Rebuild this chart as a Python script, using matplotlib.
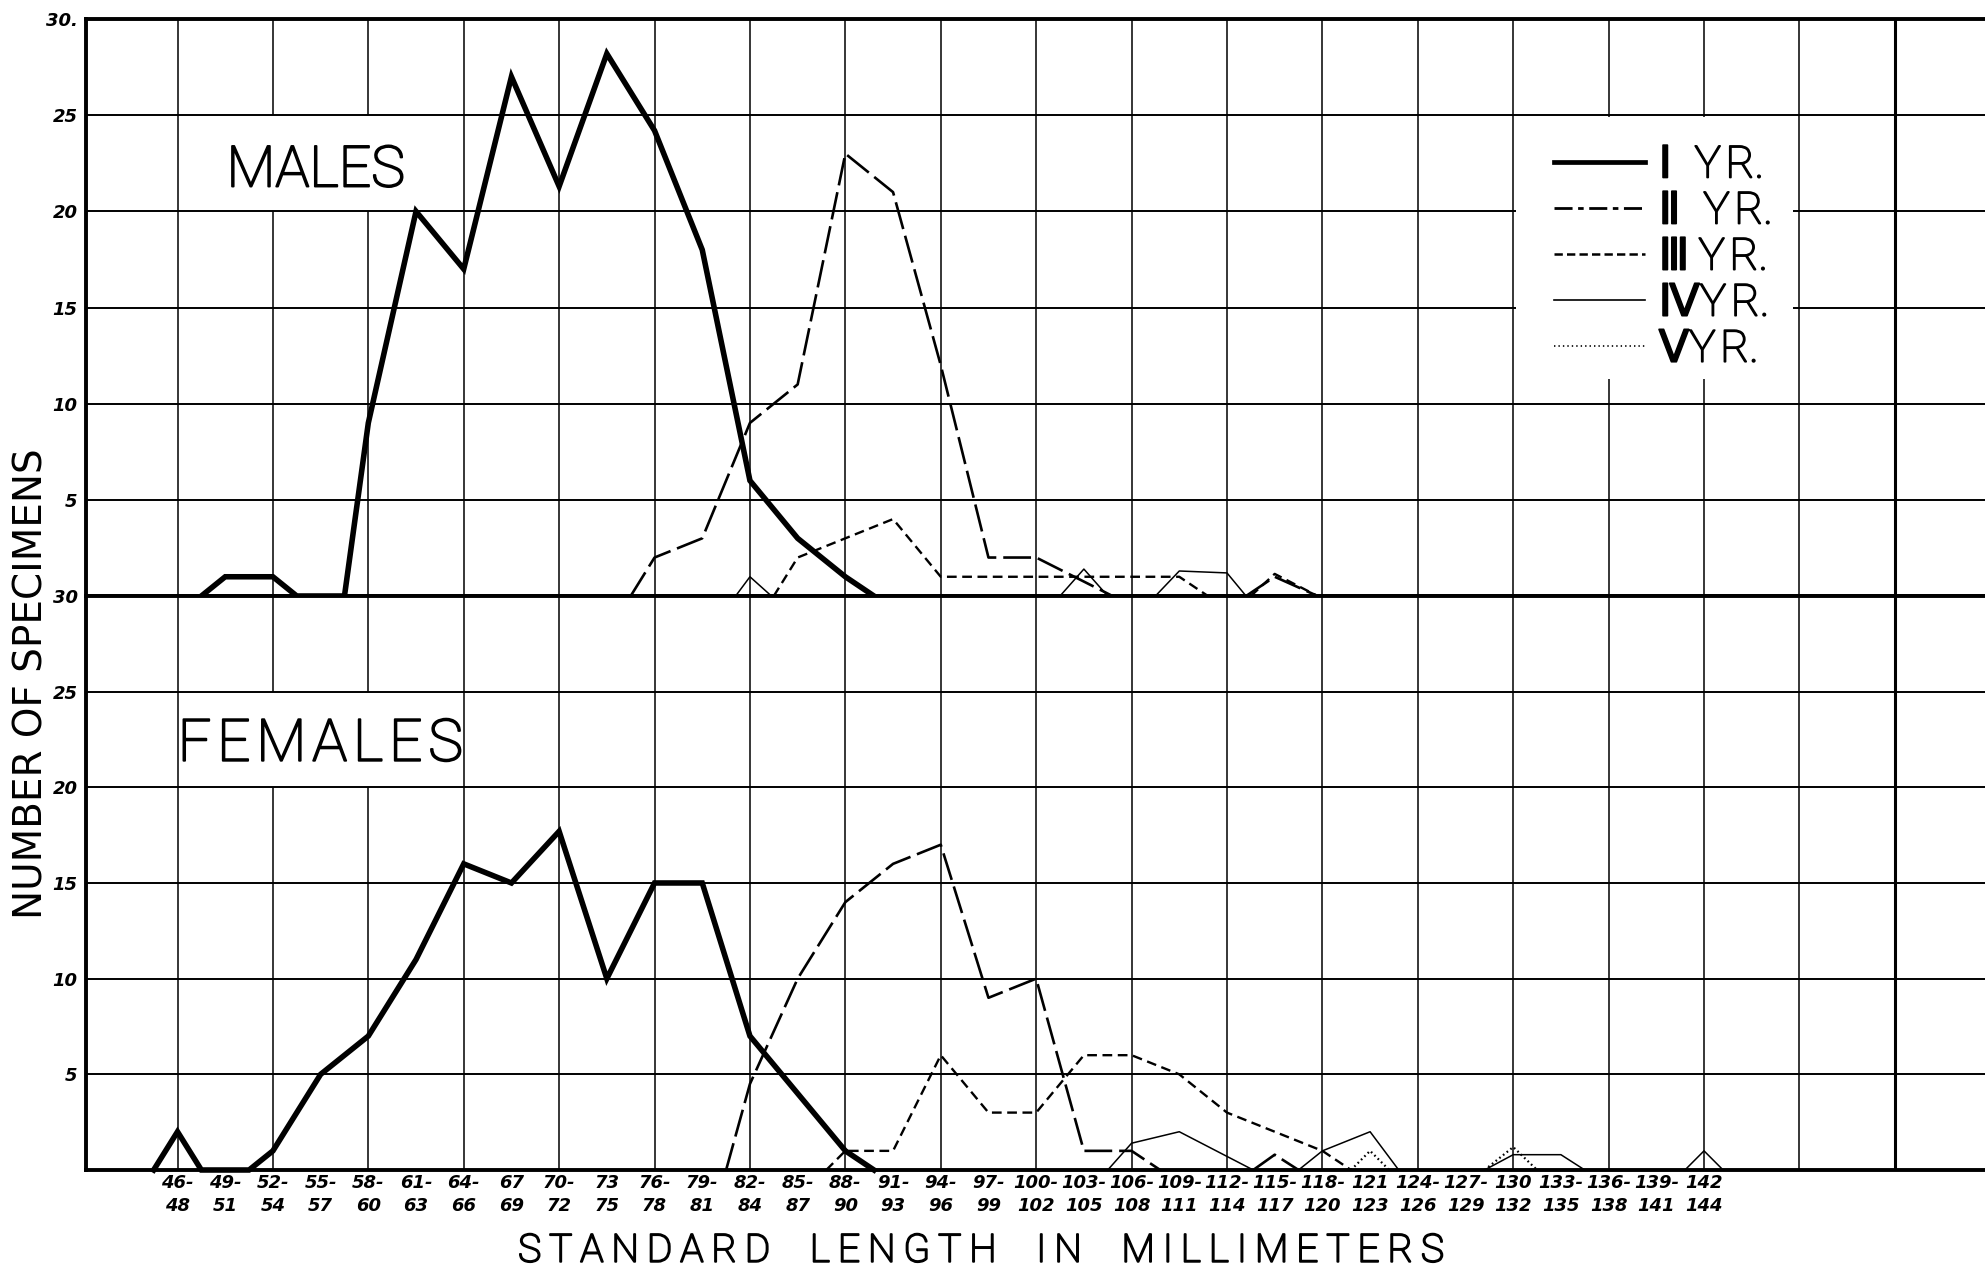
import numpy as np
import matplotlib.pyplot as plt
import matplotlib.patheffects as pe
from matplotlib.lines import Line2D
from matplotlib.patches import Rectangle
from matplotlib.font_manager import FontProperties
from matplotlib.mathtext import MathTextParser

plt.rcParams['lines.scale_dashes'] = False
plt.rcParams['font.family'] = ['DejaVu Sans']

nan = np.nan

# classes de longueur : indice 0 -> 46-48 mm, 1 -> 49-51 mm ... 32 -> 142-144 mm
tick_top = ["46-", "49-", "52-", "55-", "58-", "61-", "64-", "67", "70-", "73",
            "76-", "79-", "82-", "85-", "88-", "91-", "94-", "97-", "100-", "103-",
            "106-", "109-", "112-", "115-", "118-", "121", "124-", "127-", "130",
            "133-", "136-", "139-", "142"]
tick_bot = ["48", "51", "54", "57", "60", "63", "66", "69", "72", "75",
            "78", "81", "84", "87", "90", "93", "96", "99", "102", "105",
            "108", "111", "114", "117", "120", "123", "126", "129", "132",
            "135", "138", "141", "144"]

# MALES
m1_x = [0.5, 1, 2, 2.5, 3.5, 4, 5, 6, 7, 8, 9, 10, 11, 12, 13, 14, 14.6]
m1_y = [0, 1, 1, 0, 0, 9, 20, 17, 27, 21.3, 28.2, 24.2, 18, 6, 3, 1, 0]
m2_x = [9.5, 10, 11, 12, 13, 14, 15, 16, 17, 18, 19.6, nan, 22.4, 23, 23.9]
m2_y = [0, 2, 3, 9, 11, 23, 21, 12, 2, 2, 0, nan, 0, 1, 0]
m3_x = [12.5, 13, 14, 15, 16, 17, 18, 19, 20, 21, 21.6, nan, 22.5, 23, 23.9]
m3_y = [0, 2, 3, 4, 1, 1, 1, 1, 1, 1, 0, nan, 0, 1.15, 0]
m4_x = [11.7, 12, 12.45, nan, 18.5, 19, 19.5, nan, 20.5, 21, 22, 22.4]
m4_y = [0, 1, 0, nan, 0, 1.4, 0, nan, 0, 1.3, 1.2, 0]

# FEMALES
f1_x = [-0.5, 0, 0.5, 1.5, 2, 3, 4, 5, 6, 7, 8, 9, 10, 11, 12, 13, 14, 14.6]
f1_y = [0, 2, 0, 0, 1, 5, 7, 11, 16, 15, 17.7, 10, 15, 15, 7, 4, 1, 0]
f2_x = [11.5, 12, 13, 14, 15, 16, 17, 18, 19, 20, 20.6, nan, 22.55, 23, 23.5]
f2_y = [0, 4.5, 10, 14, 16, 17, 9, 10, 1, 1, 0, nan, 0, 0.8, 0]
f3_x = [13.6, 14, 15, 16, 17, 18, 19, 20, 21, 22, 23, 24, 24.6]
f3_y = [0, 1, 1, 6, 3, 3, 6, 6, 5, 3, 2, 1, 0]
f4_x = [19.5, 20, 21, 22.55, nan, 23.5, 24, 25, 25.6, nan, 27.4, 28, 29, 29.5,
        nan, 31.6, 32, 32.4]
f4_y = [0, 1.4, 2, 0, nan, 0, 1, 2, 0, nan, 0, 0.8, 0.8, 0, nan, 0, 1, 0]
f5_x = [24.6, 25, 25.4, nan, 27.4, 28, 28.5]
f5_y = [0, 1, 0, nan, 0, 1.2, 0]

numerals = ["\u2160", "\u2161", "\u2162", "\u2163", "\u2164"]
gaps = ["\u2002", "\u2002", "\u2009", "", ""]

# chiffres romains en DejaVu (mathtext) si possible
try:
    MathTextParser('path').parse("$\\mathrm{" + numerals[2] + "}$")
    num_txt = ["$\\mathrm{" + n + "}$" for n in numerals]
except Exception:
    num_txt = numerals
yr = "Y\u200aR."
legend_labels = [n + g + yr for n, g in zip(num_txt, gaps)]

# styles des courbes
st1 = dict(color='k', lw=4.0, solid_joinstyle='miter')
st2 = dict(color='k', lw=1.9, dashes=(20, 5))
st3 = dict(color='k', lw=1.7, dashes=(7, 4))
st4 = dict(color='k', lw=1.1)
st5 = dict(color='k', lw=1.6, dashes=(1.2, 2.2))

big = ['Roboto', 'DejaVu Sans']
thick = [pe.withStroke(linewidth=1.4, foreground='k')]
num = dict(fontstyle='italic', fontweight='bold')

fig = plt.figure(figsize=(19.85, 12.68), dpi=100)
ax_m = fig.add_axes([0.04333, 0.52997, 0.95667, 0.4550])
ax_f = fig.add_axes([0.04333, 0.07729, 0.95667, 0.4527])

for ax in (ax_m, ax_f):
    ax.set_xlim(-1.918, 37.89)
    ax.set_ylim(0, 30)
    ax.spines['right'].set_visible(False)
    for s in ('left', 'top', 'bottom'):
        ax.spines[s].set_linewidth(2.8)
    for v in range(5, 30, 5):
        ax.axhline(v, color='k', lw=1.4, zorder=2.5)
    for i in range(0, 36, 2):
        ax.axvline(i, color='k', lw=1.1, zorder=1)
    ax.axvline(36, color='k', lw=2.2, zorder=1)
    ax.tick_params(length=0)
    ax.set_yticks([5, 10, 15, 20, 25, 30])

ax_m.set_yticklabels(["5", "10", "15", "20", "25", "30."], fontsize=13, **num)
ax_f.set_yticklabels(["5", "10", "15", "20", "25", "30"], fontsize=13, **num)
ax_m.tick_params(axis='y', pad=6)
ax_f.tick_params(axis='y', pad=6)

ax_m.set_xticks([])
ax_f.set_xticks(range(len(tick_top)))
ax_f.set_xticklabels([t + "\n" + b for t, b in zip(tick_top, tick_bot)],
                     fontsize=13, linespacing=1.35, **num)
ax_f.tick_params(axis='x', pad=3)

# courbes
ax_m.plot(m1_x, m1_y, zorder=3, clip_on=False, **st1)
ax_m.plot(m2_x, m2_y, zorder=3, clip_on=False, **st2)
ax_m.plot(m3_x, m3_y, zorder=3, clip_on=False, **st3)
ax_m.plot(m4_x, m4_y, zorder=3, clip_on=False, **st4)

ax_f.plot(f1_x, f1_y, zorder=3, clip_on=False, **st1)
ax_f.plot(f2_x, f2_y, zorder=3, clip_on=False, **st2)
ax_f.plot(f3_x, f3_y, zorder=3, clip_on=False, **st3)
ax_f.plot(f4_x, f4_y, zorder=3, clip_on=False, **st4)
ax_f.plot(f5_x, f5_y, zorder=3, clip_on=False, **st5)

# titres des panneaux sur fond blanc
ax_m.add_patch(Rectangle((0.1, 20), 4.9, 5, facecolor='white', edgecolor='none', zorder=2))
ax_m.text(2.9, 22.1, "MALES", family=big, weight='light', fontsize=41,
          ha='center', va='center', zorder=4, path_effects=thick)
ax_f.add_patch(Rectangle((0.1, 20), 5.8, 5, facecolor='white', edgecolor='none', zorder=2))
ax_f.text(3.0, 22.2, "\u200a".join("FEMALES"), family=big, weight='light', fontsize=42,
          ha='center', va='center', zorder=4, path_effects=thick)

# legende
ax_m.add_patch(Rectangle((28.06, 11.3), 5.8, 13.6, facecolor='white',
                         edgecolor='none', zorder=2.7))
handles = [Line2D([], [], color='k', lw=3.4),
           Line2D([], [], color='k', lw=2.0, dashes=(13, 4, 4, 4)),
           Line2D([], [], color='k', lw=1.8, dashes=(6, 3)),
           Line2D([], [], color='k', lw=1.2),
           Line2D([], [], color='k', lw=1.2, dashes=(1, 2.2))]
leg = ax_m.legend(handles, legend_labels, loc='upper left',
                  bbox_to_anchor=(28.86, 23.5), bbox_transform=ax_m.transData,
                  frameon=False, borderpad=0, borderaxespad=0,
                  handlelength=2.05, handletextpad=0.3, labelspacing=0.08,
                  prop=FontProperties(family=big, weight='light', size=32))
leg.set_zorder(5)
for t in leg.get_texts():
    t.set_path_effects([pe.withStroke(linewidth=1.2, foreground='k')])

xl = "\u2003".join(["\u2009".join(w) for w in "STANDARD LENGTH IN MILLIMETERS".split()])
fig.text(980 / 1985, 1 - 1251 / 1268, xl, family=big, weight='light', fontsize=28,
         ha='center', va='center', path_effects=thick)
fig.text(32 / 1985, 1 - 684 / 1268, "NUMBER OF SPECIMENS", fontsize=28,
         rotation=90, ha='center', va='center')

plt.savefig("out.png", dpi=100)
